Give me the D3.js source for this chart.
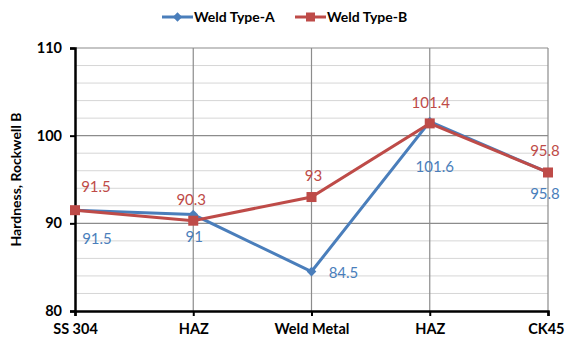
<!DOCTYPE html>
<html><head><meta charset="utf-8">
<script src="https://cdn.jsdelivr.net/npm/d3@7"></script>
<style>body{margin:0;background:#fff;}svg{display:block;font-family:Lato,"Open Sans",sans-serif;}</style>
</head><body>
<svg id="c" width="565" height="343"></svg>
<script>
const categories = ["SS 304", "HAZ", "Weld Metal", "HAZ ", "CK45"];
const seriesA = [91.5, 91, 84.5, 101.6, 95.8];
const seriesB = [91.5, 90.3, 93, 101.4, 95.8];
const seriesNames = ["Weld Type-A", "Weld Type-B"];
const yTicks = [80, 90, 100, 110];
const yMinor = [82, 84, 86, 88, 92, 94, 96, 98, 102, 104, 106, 108];

(function () {
const colA = "#4a7ebb", colB = "#be4b48";
const svg = d3.select("#c");
const pL = 75, pR = 548, pT = 48, pB = 311;
const x = d3.scalePoint().domain(categories).range([pL, pR]);
const y = d3.scaleLinear().domain([80, 110]).range([pB, pT]);

// minor gridlines
svg.append("g").selectAll("line").data(yMinor).join("line")
  .attr("x1", pL).attr("x2", pR).attr("y1", d => y(d)).attr("y2", d => y(d))
  .attr("stroke", "#d6d6d6").attr("stroke-width", 1);
// major gridlines
svg.append("g").selectAll("line").data(yTicks.slice(1)).join("line")
  .attr("x1", pL).attr("x2", pR).attr("y1", d => y(d)).attr("y2", d => y(d))
  .attr("stroke", "#8c8c8c").attr("stroke-width", 1.2);
// vertical gridlines
svg.append("g").selectAll("line").data(categories.slice(1)).join("line")
  .attr("x1", d => x(d)).attr("x2", d => x(d)).attr("y1", pT).attr("y2", pB)
  .attr("stroke", "#8c8c8c").attr("stroke-width", 1.2);

// axes
const yAxis = svg.append("g").attr("transform", `translate(${pL},0)`)
  .call(d3.axisLeft(y).tickValues(yTicks).tickSize(5).tickPadding(8));
const xAxis = svg.append("g").attr("transform", `translate(0,${pB})`)
  .call(d3.axisBottom(x).tickSize(5).tickPadding(6));
[yAxis, xAxis].forEach(a => {
  a.select(".domain").attr("stroke", "#000").attr("stroke-width", 2.5);
  a.selectAll(".tick line").attr("stroke", "#000").attr("stroke-width", 2);
  a.selectAll("text").attr("font-size", 14.5).attr("font-weight", "bold").attr("fill", "#000")
    .attr("font-family", "Lato, sans-serif");
});
xAxis.selectAll("text").attr("dy", "0.85em");
xAxis.selectAll(".tick").filter((d, i, n) => i === n.length - 1).select("text")
  .attr("text-anchor", "end").attr("x", 16);

// y title
svg.append("text").attr("transform", `translate(21,${(pT + pB) / 2}) rotate(-90)`)
  .attr("text-anchor", "middle").attr("font-size", 14).attr("font-weight", "bold")
  .text("Hardness, Rockwell B");

const line = d3.line().x((d, i) => x(categories[i])).y(d => y(d));
// series A
svg.append("path").datum(seriesA).attr("d", line).attr("fill", "none")
  .attr("stroke", colA).attr("stroke-width", 3);
svg.append("g").selectAll("path").data(seriesA).join("path")
  .attr("d", d3.symbol(d3.symbolDiamond2, 60)())
  .attr("transform", (d, i) => `translate(${x(categories[i])},${y(d)})`)
  .attr("fill", colA);
// series B
svg.append("path").datum(seriesB).attr("d", line).attr("fill", "none")
  .attr("stroke", colB).attr("stroke-width", 3);
svg.append("g").selectAll("rect").data(seriesB).join("rect")
  .attr("x", (d, i) => x(categories[i]) - 5).attr("y", d => y(d) - 5)
  .attr("width", 10).attr("height", 10).attr("fill", colB);

// data labels (placement offsets)
const offA = [[22, 34], [1, 27], [32, 6], [5, 50], [-3, 27]];
const offB = [[21, -18], [-2, -16], [2, -16], [1, -15], [-3, -16]];
svg.append("g").selectAll("text").data(seriesA).join("text")
  .attr("x", (d, i) => x(categories[i]) + offA[i][0]).attr("y", (d, i) => y(d) + offA[i][1])
  .attr("text-anchor", "middle").attr("font-size", 15).attr("fill", colA).text(d => d);
svg.append("g").selectAll("text").data(seriesB).join("text")
  .attr("x", (d, i) => x(categories[i]) + offB[i][0]).attr("y", (d, i) => y(d) + offB[i][1])
  .attr("text-anchor", "middle").attr("font-size", 15).attr("fill", colB).text(d => d);

// legend
const leg = svg.append("g");
const legItems = [{name: seriesNames[0], c: colA, x0: 162}, {name: seriesNames[1], c: colB, x0: 295}];
legItems.forEach((it, k) => {
  leg.append("line").attr("x1", it.x0).attr("x2", it.x0 + 31).attr("y1", 17).attr("y2", 17)
    .attr("stroke", it.c).attr("stroke-width", 3);
  if (k === 0) leg.append("path").attr("d", d3.symbol(d3.symbolDiamond2, 55)())
    .attr("transform", `translate(${it.x0 + 15.5},17)`).attr("fill", it.c);
  else leg.append("rect").attr("x", it.x0 + 11).attr("y", 12.5).attr("width", 9).attr("height", 9).attr("fill", it.c);
  leg.append("text").attr("x", it.x0 + 32).attr("y", 22).attr("font-size", 14)
    .attr("font-weight", "bold").text(it.name);
});
})();
</script>
</body></html>
